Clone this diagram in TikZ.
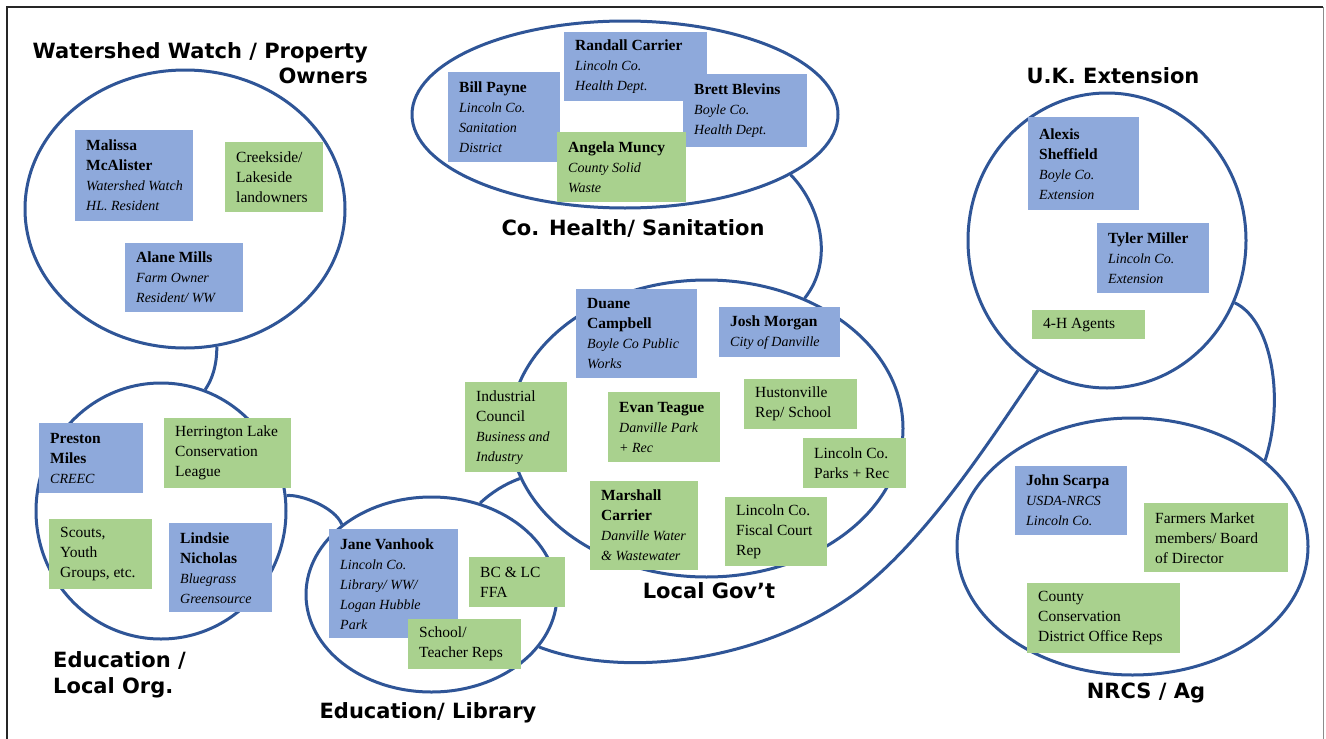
\documentclass[tikz,border=0pt]{standalone}
\usepackage{fontspec}
\setmainfont{Liberation Serif}
\newfontfamily\headfont{DejaVu Sans}
\usetikzlibrary{shapes.geometric}
\definecolor{grpline}{HTML}{2F5597}
\definecolor{pblue}{HTML}{8EA9DB}
\definecolor{pgreen}{HTML}{A9D18E}
\definecolor{framecol}{HTML}{262626}
\newcommand\roleit[1]{{\fontsize{14}{20}\selectfont\itshape #1}}
\newcommand\persbox[7]{%
  \node[#6, minimum width=#4, minimum height=#5] (#1) at (#2,#3) {};
  \node[boxtext] (#1-t) at ([xshift=11pt]#1.west) {#7};}
\begin{document}
\begin{tikzpicture}[x=1pt,y=-1pt,
  grp/.style={draw=grpline, line width=3pt, ellipse, inner sep=0pt},
  link/.style={draw=grpline, line width=3pt},
  bluebox/.style={fill=pblue, anchor=north west, inner sep=0pt},
  greenbox/.style={fill=pgreen, anchor=north west, inner sep=0pt},
  boxtext/.style={anchor=west, align=left, inner sep=0pt, font=\fontsize{15.5}{20}\selectfont},
  head/.style={font=\headfont\bfseries\fontsize{21}{25}\selectfont, inner sep=0pt, anchor=base},
]
\useasboundingbox (0,0) rectangle (1326,739);
\fill[white] (0,0) rectangle (1326,739);
% frame
\draw[framecol, line width=1.8pt] (7,745) -- (7,7) -- (1323,7);
\draw[black!45, line width=0.8pt] (1323,7) -- (1323,745);

% groups
\node[grp, minimum width=320, minimum height=278] (ws) at (185,209) {};
\node[grp, minimum width=426, minimum height=187] (health) at (625,114.5) {};
\node[grp, minimum width=278, minimum height=295] (uk) at (1107,240.5) {};
\node[grp, minimum width=393, minimum height=297] (lg) at (706.5,428.5) {};
\node[grp, minimum width=250, minimum height=256] (el) at (161,511) {};
\node[grp, minimum width=251, minimum height=195] (lib) at (431.5,594.5) {};
\node[grp, minimum width=351, minimum height=257] (nrcs) at (1132.5,546.5) {};

% links
\draw[link] (ws.-77) .. controls (217,365) and (212,380) .. (el.70);
\draw[link] (el.7) .. controls (300,494) and (335,507) .. (lib.142);
\draw[link] (lib.62) .. controls (492,492) and (505,484) .. (lg.195);
\draw[link] (health.-20) .. controls (820,205) and (835,260) .. (lg.53);
\draw[link] (lib.-26) .. controls (620,678) and (760,665) .. (860,590)
   .. controls (930,535) and (990,440) .. (uk.242.6);
\draw[link] (uk.-26) .. controls (1272,320) and (1285,400) .. (nrcs.33);

% Watershed Watch
\persbox{malissa}{75}{130}{118}{91}{bluebox}{\textbf{Malissa}\\\textbf{McAlister}\\\roleit{Watershed Watch}\\\roleit{HL. Resident}}
\persbox{creek}{225}{142}{98}{70}{greenbox}{Creekside/\\Lakeside\\landowners}
\persbox{alane}{125}{243}{118}{69}{bluebox}{\textbf{Alane Mills}\\\roleit{Farm Owner}\\\roleit{Resident/ WW}}

% Co. Health
\persbox{bill}{448}{72}{112}{90}{bluebox}{\textbf{Bill Payne}\\\roleit{Lincoln Co.}\\\roleit{Sanitation}\\\roleit{District}}
\persbox{randall}{564}{32}{143}{69}{bluebox}{\textbf{Randall Carrier}\\\roleit{Lincoln Co.}\\\roleit{Health Dept.}}
\persbox{brett}{683}{74}{124}{73}{bluebox}{\textbf{Brett Blevins}\\\roleit{Boyle Co.}\\\roleit{Health Dept.}}
\persbox{angela}{557}{132}{129}{70}{greenbox}{\textbf{Angela Muncy}\\\roleit{County Solid}\\\roleit{Waste}}

% U.K. Extension
\persbox{alexis}{1028}{117}{111}{93}{bluebox}{\textbf{Alexis}\\\textbf{Sheffield}\\\roleit{Boyle Co.}\\\roleit{Extension}}
\persbox{tyler}{1097}{223}{112}{70}{bluebox}{\textbf{Tyler Miller}\\\roleit{Lincoln Co.}\\\roleit{Extension}}
\persbox{fourh}{1032}{310}{113}{29}{greenbox}{4-H Agents}

% Local Gov't
\persbox{duane}{576}{289}{121}{89}{bluebox}{\textbf{Duane}\\\textbf{Campbell}\\\roleit{Boyle Co Public}\\\roleit{Works}}
\persbox{josh}{719}{307}{121}{50}{bluebox}{\textbf{Josh Morgan}\\\roleit{City of Danville}}
\persbox{indus}{465}{382}{102}{90}{greenbox}{Industrial\\Council\\\roleit{Business and}\\\roleit{Industry}}
\persbox{evan}{608}{392}{112}{70}{greenbox}{\textbf{Evan Teague}\\\roleit{Danville Park}\\\roleit{+ Rec}}
\persbox{huston}{744}{379}{113}{50}{greenbox}{Hustonville\\Rep/ School}
\persbox{lparks}{803}{438}{103}{50}{greenbox}{Lincoln Co.\\Parks + Rec}
\persbox{marshall}{590}{481}{108}{89}{greenbox}{\textbf{Marshall}\\\textbf{Carrier}\\\roleit{Danville Water}\\\roleit{\& Wastewater}}
\persbox{fiscal}{725}{497}{102}{69}{greenbox}{Lincoln Co.\\Fiscal Court\\Rep}

% Education / Local Org.
\persbox{preston}{39}{423}{104}{70}{bluebox}{\textbf{Preston}\\\textbf{Miles}\\\roleit{CREEC}}
\persbox{herring}{164}{418}{127}{70}{greenbox}{Herrington Lake\\Conservation\\League}
\persbox{scouts}{49}{519}{103}{70}{greenbox}{Scouts,\\Youth\\Groups, etc.}
\persbox{lindsie}{169}{523}{103}{89}{bluebox}{\textbf{Lindsie}\\\textbf{Nicholas}\\\roleit{Bluegrass}\\\roleit{Greensource}}

% Education / Library
\persbox{jane}{329}{529}{129}{109}{bluebox}{\textbf{Jane Vanhook}\\\roleit{Lincoln Co.}\\\roleit{Library/ WW/}\\\roleit{Logan Hubble}\\\roleit{Park}}
\persbox{bcffa}{469}{557}{96}{50}{greenbox}{BC \& LC\\FFA}
\persbox{school}{408}{619}{113}{50}{greenbox}{School/\\Teacher Reps}

% NRCS / Ag
\persbox{john}{1015}{466}{112}{69}{bluebox}{\textbf{John Scarpa}\\\roleit{USDA-NRCS}\\\roleit{Lincoln Co.}}
\persbox{farmers}{1144}{503}{144}{69}{greenbox}{Farmers Market\\members/ Board\\of Director}
\persbox{county}{1027}{583}{153}{70}{greenbox}{County\\Conservation\\District Office Reps}

% headings
\node[head, anchor=base east] (hws1) at (368,58) {Watershed Watch / Property};
\node[head, anchor=base east] (hws2) at (368,83) {Owners};
\node[head] (hhealth) at (633,235) {Co. Health/ Sanitation};
\node[head] (huk) at (1113,83) {U.K. Extension};
\node[head] (hlg) at (709,598) {Local Gov’t};
\node[head, anchor=base west] (hel1) at (53,667) {Education /};
\node[head, anchor=base west] (hel2) at (53,693) {Local Org.};
\node[head] (hlib) at (428,718) {Education/ Library};
\node[head] (hnrcs) at (1146,698) {NRCS / Ag};
\end{tikzpicture}
\end{document}
